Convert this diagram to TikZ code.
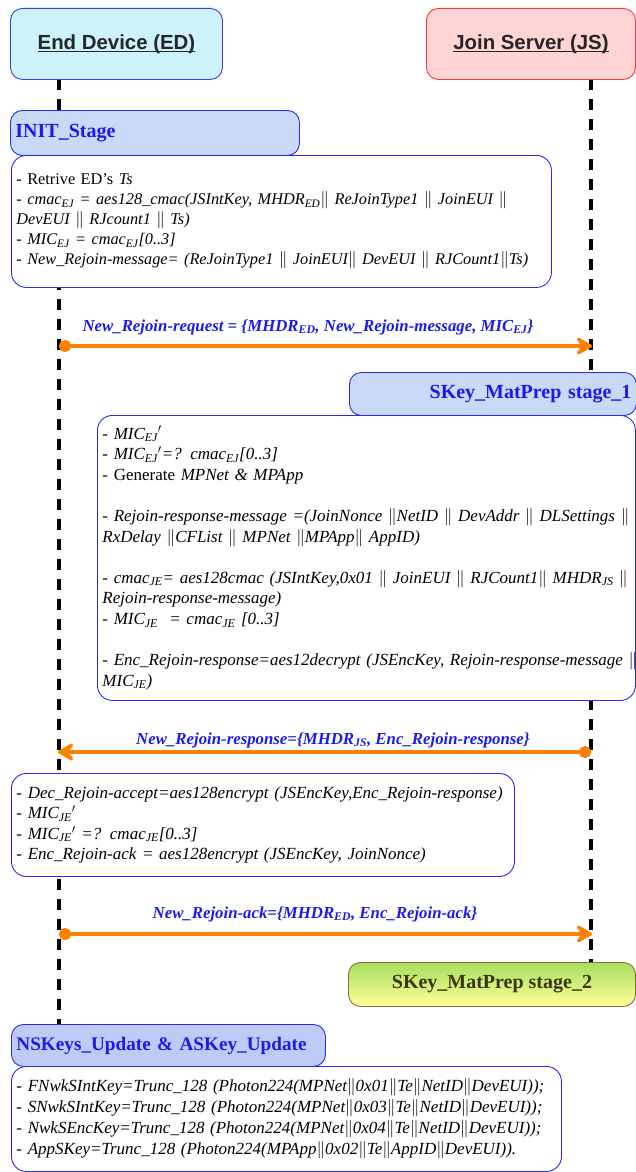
\documentclass[tikz,border=0pt]{standalone}
\usepackage{fontspec}
\setmainfont{Liberation Serif}
\newfontfamily\headfont{Liberation Sans}
\usetikzlibrary{arrows.meta}

\definecolor{edfill}{HTML}{CCF2FC}
\definecolor{edline}{HTML}{3A3AF0}
\definecolor{jsfill}{HTML}{FFD4D4}
\definecolor{jsline}{HTML}{F03A3A}
\definecolor{stagefill}{HTML}{C9D9F8}
\definecolor{keysfill}{HTML}{BFCBF7}
\definecolor{boxline}{HTML}{2A2AF0}
\definecolor{msgblue}{HTML}{1A1AF0}
\definecolor{arrowor}{HTML}{FF8000}
\definecolor{stwotop}{HTML}{A6DF5E}
\definecolor{stwobot}{HTML}{FFFF99}
\definecolor{stwoline}{HTML}{8C6D3F}
\definecolor{stwotext}{HTML}{3D3510}

\newcommand\dsh{\textup{- }}
\newcommand\subx[1]{\textsubscript{#1}}
\newcommand\parl{$\|$}
% heavy underline for the participant titles
\newcommand\uln[1]{\setbox0\hbox{#1}\rlap{\rule[-3pt]{\wd0}{1.5pt}}\box0}

\tikzset{
  actor/.style={draw, rounded corners=12pt, line width=0.9pt, minimum height=71pt,
    font=\headfont\fontsize{20.4}{24}\selectfont\bfseries, text=black!85},
  lifeline/.style={line width=4pt, dash pattern=on 11pt off 9pt},
  stagebox/.style={draw=boxline, fill=stagefill, rounded corners=12pt, line width=0.9pt,
    inner xsep=5pt, inner ysep=0pt, font=\fontsize{20}{22}\selectfont\bfseries, text=msgblue},
  notebox/.style={draw=boxline, fill=white, rounded corners=15pt, line width=0.9pt,
    align=left, inner xsep=5pt, inner ysep=0pt, font=\fontsize{17}{20.6}\selectfont},
  msg/.style={draw=arrowor, line width=4pt,
    {Circle[length=12pt]}-{Stealth[length=20pt,width=23pt,inset=8pt,round]}},
  msglabel/.style={text=msgblue, font=\fontsize{16.8}{19}\selectfont\bfseries\itshape},
}

\begin{document}
\begin{tikzpicture}[x=1pt,y=-1pt]
\useasboundingbox (0,0) rectangle (636,1172);

% lifelines
\coordinate (edtop) at (59,79);
\coordinate (edbot) at (59,1024);
\coordinate (jstop) at (591,79);
\coordinate (jsbot) at (591,962);
\draw[lifeline] (edtop) -- (edbot);
\draw[lifeline] (jstop) -- (jsbot);

% participants
\node[actor, fill=edfill, draw=edline, minimum width=212pt, anchor=north west] (ed) at (10,8)
  {\uln{End Device (ED)}};
\node[actor, fill=jsfill, draw=jsline, minimum width=209pt, anchor=north west] (js) at (426,8)
  {\uln{Join Server (JS)}};

% initial stage on the end device
\node[stagebox, text width=279pt, align=left, minimum height=45pt, anchor=north west] (init) at (10,110)
  {INIT\_Stage};
\node[notebox, text width=530pt, minimum height=132pt, anchor=north west, font=\fontsize{16.3}{20}\selectfont] (n1) at (11,155) {%
\dsh Retrive ED's \textit{Ts}\\
\mbox{\dsh\textit{cmac\subx{EJ} = aes128\_cmac(JSIntKey, MHDR\subx{ED}\parl\ ReJoinType1 \parl\ JoinEUI \parl}}\\
\textit{DevEUI \parl\ RJcount1 \parl\ Ts)}\\
\dsh\textit{MIC\subx{EJ} = cmac\subx{EJ}[0..3]}\\
\mbox{\dsh\textit{New\_Rejoin-message= (ReJoinType1 \parl\ JoinEUI\parl\ DevEUI \parl\ RJCount1\parl Ts)}}};

% rejoin request
\coordinate (ed1) at (59,346);
\coordinate (js1) at (592,346);
\draw[msg] (ed1) -- (js1);
\node[msglabel] (l1) at (308,327)
  {New\_Rejoin-request = \{MHDR\subx{ED}, New\_Rejoin-message, MIC\subx{EJ}\}};

% key material preparation on the join server
\node[stagebox, text width=277pt, align=right, minimum height=43pt, anchor=north west] (s1) at (349,372)
  {SKey\_MatPrep stage\_1};
\node[notebox, text width=528pt, minimum height=285pt, anchor=north west] (n2) at (97,415) {%
\dsh\textit{MIC\subx{EJ}$'$}\\
\dsh\textit{MIC\subx{EJ}$'$=? cmac\subx{EJ}[0..3]}\\
\dsh Generate \textit{MPNet \& MPApp}\\[20.6pt]
\mbox{\dsh\textit{Rejoin-response-message =(JoinNonce \parl NetID \parl\ DevAddr \parl\ DLSettings \parl}}\\
\textit{RxDelay \parl CFList \parl\ MPNet \parl MPApp\parl\ AppID)}\\[20.6pt]
\mbox{\dsh\textit{cmac\subx{JE}= aes128cmac (JSIntKey,0x01 \parl\ JoinEUI \parl\ RJCount1\parl\ MHDR\subx{JS} \parl}}\\
\textit{Rejoin-response-message)}\\
\dsh\textit{MIC\subx{JE}\ \ = cmac\subx{JE} [0..3]}\\[20.6pt]
\mbox{\dsh\textit{Enc\_Rejoin-response=aes12decrypt (JSEncKey, Rejoin-response-message \parl}}\\
\textit{MIC\subx{JE})}};

% rejoin response
\coordinate (js2) at (591,752);
\coordinate (ed2) at (58,752);
\draw[msg] (js2) -- (ed2);
\node[msglabel] (l2) at (333,740)
  {New\_Rejoin-response=\{MHDR\subx{JS}, Enc\_Rejoin-response\}};

\node[notebox, text width=493pt, minimum height=103pt, anchor=north west, font=\fontsize{17}{20.5}\selectfont] (n3) at (11,773) {%
\mbox{\dsh\textit{Dec\_Rejoin-accept=aes128encrypt (JSEncKey,Enc\_Rejoin-response)}}\\
\dsh\textit{MIC\subx{JE}$'$}\\
\dsh\textit{MIC\subx{JE}$'$ =? cmac\subx{JE}[0..3]}\\
\dsh\textit{Enc\_Rejoin-ack = aes128encrypt (JSEncKey, JoinNonce)}};

% rejoin acknowledgement
\coordinate (ed3) at (59,934);
\coordinate (js3) at (592,934);
\draw[msg] (ed3) -- (js3);
\node[msglabel] (l3) at (315,914)
  {New\_Rejoin-ack=\{MHDR\subx{ED}, Enc\_Rejoin-ack\}};

\node[draw=stwoline, top color=stwotop, bottom color=stwobot, rounded corners=12pt, line width=0.9pt,
  minimum width=287pt, minimum height=44pt, anchor=north west, text=stwotext,
  font=\fontsize{20}{22}\selectfont\bfseries] (s2) at (348,962) {SKey\_MatPrep stage\_2};

% session key update
\node[stagebox, fill=keysfill, text width=304pt, align=left, minimum height=42pt, anchor=north west,
  font=\fontsize{19.2}{22}\selectfont\bfseries] (keys) at (11,1024)
  {NSKeys\_Update \& ASKey\_Update};
\node[notebox, text width=540pt, minimum height=105pt, anchor=north west, font=\fontsize{17}{21}\selectfont] (n4) at (11,1066) {%
\mbox{\dsh\textit{FNwkSIntKey=Trunc\_128 (Photon224(MPNet\parl 0x01\parl Te\parl NetID\parl DevEUI));}}\\
\mbox{\dsh\textit{SNwkSIntKey=Trunc\_128 (Photon224(MPNet\parl 0x03\parl Te\parl NetID\parl DevEUI));}}\\
\mbox{\dsh\textit{NwkSEncKey=Trunc\_128 (Photon224(MPNet\parl 0x04\parl Te\parl NetID\parl DevEUI));}}\\
\mbox{\dsh\textit{AppSKey=Trunc\_128 (Photon224(MPApp\parl 0x02\parl Te\parl AppID\parl DevEUI)).}}};
\end{tikzpicture}
\end{document}
